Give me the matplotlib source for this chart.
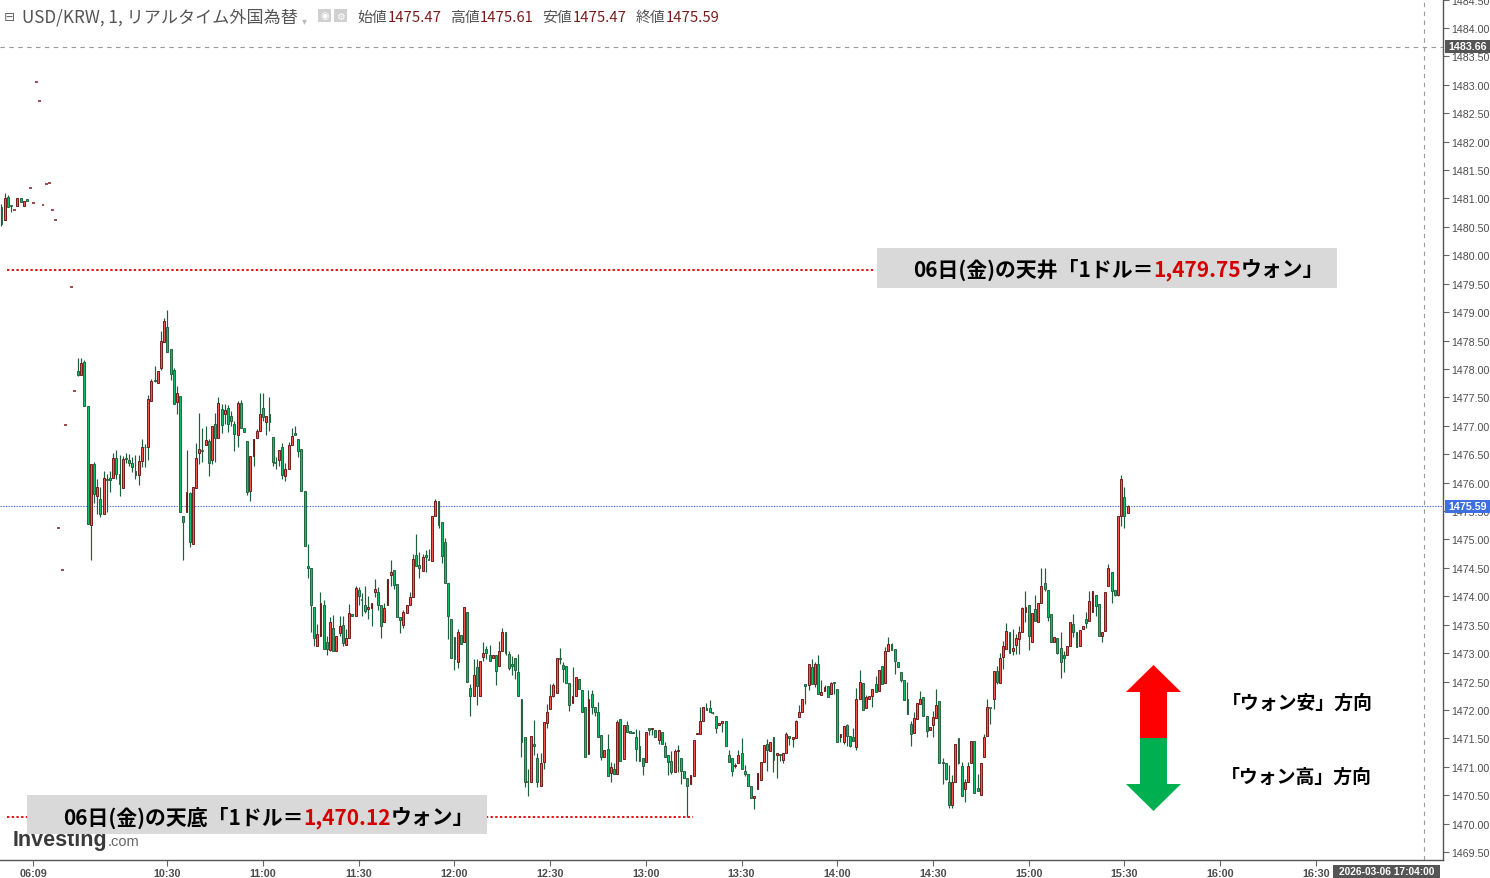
import numpy as np
import matplotlib
matplotlib.use("Agg")
import matplotlib.pyplot as plt
from matplotlib.patches import Rectangle, Polygon

nan = float("nan")

# ---------------- data (USD/KRW 1-minute candles, slot index = chart position) ----------------
candle_open = [
    1480.85, 1480.63, 1481.02, 1480.86, 1480.79, 1480.86, 1481.00, 1480.87, 1480.99, 1481.18,
    1480.92, 1483.05, 1482.72, 1480.88, 1481.25, 1481.28, 1480.79, 1480.63, 1475.21, 1474.46,
    1477.01, nan, 1479.44, 1477.61, 1477.96, 1477.90, 1478.13, 1477.34, 1475.26, 1476.33,
    1475.76, 1475.72, 1475.44, 1476.07, 1476.08, 1476.08, 1476.43, 1476.15, 1475.90, 1476.43,
    1476.40, 1476.35, 1476.20, 1476.13, 1476.38, 1476.63, 1476.62, 1477.43, 1477.81, 1477.75,
    1478.01, 1478.48, 1478.73, 1478.36, 1477.98, 1477.42, 1477.53, 1475.41, 1475.49, 1475.81,
    1474.92, 1475.90, 1476.52, 1476.56, 1476.67, 1476.73, 1476.40, 1477.04, 1476.78, 1477.30,
    1477.20, 1477.31, 1477.17, 1477.04, 1476.84, 1477.41, 1476.97, 1476.73, 1475.85, 1476.46,
    1476.79, 1476.91, 1477.31, 1477.07, 1477.21, 1476.80, 1476.35, 1476.40, 1476.63, 1476.11,
    1476.24, 1476.66, 1476.87, 1476.77, 1476.60, 1475.85, 1474.53, 1474.49, 1473.82, 1473.13,
    1473.31, 1473.85, 1473.19, 1473.06, 1473.45, 1473.03, 1473.35, 1473.49, 1473.15, 1473.26,
    1473.68, 1473.65, 1474.11, 1473.93, 1473.84, 1473.77, 1473.79, 1474.07, 1474.07, 1473.85,
    1473.55, 1473.84, 1474.38, 1474.46, 1474.22, 1473.63, 1473.50, 1473.70, 1473.85, 1473.98,
    1474.73, 1474.55, 1474.45, 1474.73, 1474.63, 1474.62, 1475.41, 1475.67, 1475.30, 1474.95,
    1474.23, 1473.60, 1473.28, 1472.85, 1473.32, 1473.19, 1473.72, 1472.39, 1472.25, 1472.75,
    1472.24, 1472.93, 1473.07, 1472.97, 1472.91, 1472.96, 1472.77, 1473.04, 1473.37, 1472.99,
    1472.81, 1472.91, 1472.66, 1472.19, 1471.52, 1470.74, 1470.73, 1471.40, 1471.15, 1470.67,
    1471.08, 1471.77, 1472.02, 1472.25, 1472.29, 1472.91, 1472.79, 1472.77, 1472.47, 1472.12,
    1472.24, 1472.54, 1472.35, 1472.06, 1471.22, 1472.28, 1472.05, 1471.96, 1471.56, 1471.17,
    1471.31, 1470.89, 1470.97, 1470.88, 1471.84, 1471.14, 1471.74, 1471.63, 1471.62, 1471.52,
    1471.36, 1471.15, 1471.08, 1471.68, 1471.66, 1471.65, 1471.47, 1471.62, 1471.36, 1471.21,
    1471.10, 1470.90, 1471.27, 1471.15, 1470.92, 1470.80, 1470.69, 1470.83, 1471.58, 1471.57,
    1471.81, 1472.03, 1472.03, 1471.95, 1471.89, 1471.74, 1471.77, 1471.80, 1471.21, 1471.15,
    1471.02, 1471.06, 1471.25, 1470.92, 1470.88, 1470.67, 1470.45, 1470.61, 1470.77, 1471.09,
    1471.40, 1471.27, 1471.53, 1471.21, 1471.22, 1471.12, 1471.25, 1471.54, 1471.49, 1471.50,
    1471.87, 1471.96, 1472.46, 1472.44, 1472.75, 1472.46, 1472.80, 1472.27, 1472.33, 1472.42,
    1472.28, 1472.49, 1472.37, 1471.52, 1471.43, 1471.74, 1471.54, 1471.52, 1471.34, 1472.19,
    1472.47, 1472.03, 1472.19, 1472.24, 1472.46, 1472.34, 1472.78, 1472.47, 1473.04, 1473.16,
    1473.08, 1472.84, 1472.67, 1472.52, 1472.19, 1471.75, 1471.59, 1471.84, 1472.10, 1472.22,
    1471.89, 1471.65, 1471.73, 1471.85, 1472.16, 1471.09, 1471.06, 1470.74, 1470.32, 1470.74,
    1471.50, 1471.02, 1470.61, 1470.73, 1471.07, 1471.45, 1470.62, 1470.50, 1471.17, 1471.54,
    1472.03, 1472.20, 1472.68, 1472.47, 1472.93, 1473.07, 1473.37, 1473.03, 1473.15, 1473.24,
    1473.37, 1473.72, 1473.84, 1473.19, 1473.78, 1473.54, 1473.88, 1474.23, 1474.11, 1473.68,
    1473.19, 1473.26, 1473.09, 1472.97, 1472.97, 1473.13, 1473.51, 1473.37, 1473.12, 1473.43,
    1473.60, 1473.56, 1473.72, 1474.02, 1473.86, 1473.31, 1473.39, 1474.18, 1474.42, 1474.11,
    1474.03, 1475.41, 1475.74, 1475.47,
]
candle_high = [
    1480.90, 1481.10, 1481.06, 1480.88, 1480.79, 1481.00, 1481.00, 1480.96, 1480.99, 1481.18,
    1480.92, 1483.05, 1482.72, 1480.88, 1481.25, 1481.28, 1480.79, 1480.63, 1475.21, 1474.46,
    1477.01, nan, 1479.44, 1477.61, 1478.19, 1478.20, 1478.15, 1477.34, 1476.32, 1476.36,
    1476.06, 1475.92, 1476.21, 1476.15, 1476.21, 1476.52, 1476.57, 1476.49, 1476.46, 1476.53,
    1476.51, 1476.45, 1476.49, 1476.49, 1476.76, 1476.68, 1477.54, 1477.82, 1478.06, 1477.96,
    1478.67, 1478.90, 1479.03, 1478.36, 1478.01, 1477.70, 1477.53, 1475.41, 1476.57, 1475.83,
    1475.92, 1476.70, 1477.23, 1476.97, 1477.00, 1476.76, 1477.00, 1477.23, 1477.50, 1477.38,
    1477.38, 1477.36, 1477.26, 1477.08, 1477.44, 1477.45, 1476.97, 1476.73, 1476.46, 1476.77,
    1476.95, 1477.58, 1477.58, 1477.18, 1477.50, 1476.80, 1476.45, 1476.58, 1476.69, 1476.34,
    1476.71, 1476.96, 1476.99, 1476.77, 1476.60, 1475.86, 1474.92, 1474.49, 1473.82, 1473.51,
    1474.07, 1473.93, 1473.30, 1473.63, 1473.67, 1473.31, 1473.66, 1473.66, 1473.42, 1473.86,
    1473.68, 1474.19, 1474.17, 1474.06, 1474.19, 1474.00, 1473.89, 1474.30, 1474.16, 1473.85,
    1473.89, 1474.30, 1474.64, 1474.46, 1474.22, 1473.63, 1473.76, 1473.85, 1474.07, 1474.74,
    1475.10, 1474.78, 1474.74, 1474.82, 1474.84, 1475.41, 1475.71, 1475.67, 1475.30, 1475.03,
    1474.23, 1473.60, 1473.28, 1473.42, 1473.32, 1473.81, 1473.72, 1472.45, 1472.90, 1472.90,
    1472.86, 1473.19, 1473.13, 1473.14, 1472.97, 1472.96, 1473.21, 1473.44, 1473.37, 1473.04,
    1472.95, 1472.91, 1472.98, 1472.19, 1471.52, 1470.96, 1471.54, 1471.82, 1471.24, 1471.24,
    1471.79, 1472.10, 1472.46, 1472.48, 1472.92, 1473.09, 1472.84, 1472.77, 1472.47, 1472.75,
    1472.58, 1472.54, 1472.35, 1472.06, 1472.35, 1472.35, 1472.05, 1472.14, 1471.56, 1471.30,
    1471.58, 1471.08, 1471.06, 1471.83, 1471.84, 1471.74, 1471.81, 1471.63, 1471.62, 1471.66,
    1471.65, 1471.15, 1471.62, 1471.68, 1471.68, 1471.65, 1471.64, 1471.62, 1471.43, 1471.21,
    1471.28, 1471.31, 1471.38, 1471.15, 1470.92, 1470.80, 1470.86, 1471.47, 1471.60, 1472.06,
    1472.05, 1472.12, 1472.18, 1471.97, 1471.89, 1471.77, 1471.80, 1471.80, 1471.30, 1471.15,
    1471.06, 1471.30, 1471.50, 1471.03, 1470.88, 1470.67, 1470.49, 1470.89, 1471.09, 1471.38,
    1471.49, 1471.43, 1471.53, 1471.24, 1471.22, 1471.24, 1471.61, 1471.54, 1471.53, 1471.82,
    1472.08, 1472.20, 1472.46, 1472.81, 1472.89, 1472.85, 1472.96, 1472.53, 1472.44, 1472.42,
    1472.50, 1472.49, 1472.37, 1471.58, 1471.71, 1471.76, 1471.54, 1471.68, 1472.38, 1472.70,
    1472.47, 1472.26, 1472.24, 1472.37, 1472.60, 1472.70, 1472.78, 1473.10, 1473.28, 1473.18,
    1473.08, 1472.84, 1472.67, 1472.53, 1472.49, 1471.81, 1471.97, 1472.12, 1472.34, 1472.22,
    1471.89, 1471.70, 1471.99, 1472.37, 1472.16, 1471.15, 1471.06, 1471.03, 1470.86, 1471.40,
    1471.50, 1471.09, 1470.79, 1471.08, 1471.46, 1471.45, 1470.87, 1471.06, 1471.58, 1472.19,
    1472.03, 1472.69, 1472.78, 1473.01, 1473.21, 1473.53, 1473.37, 1473.42, 1473.34, 1473.48,
    1473.82, 1474.10, 1473.84, 1473.71, 1474.02, 1473.88, 1474.49, 1474.49, 1474.11, 1473.68,
    1473.29, 1473.26, 1473.37, 1473.04, 1473.12, 1473.54, 1473.68, 1473.37, 1473.41, 1473.47,
    1473.72, 1474.10, 1474.10, 1474.02, 1473.86, 1473.38, 1474.07, 1474.57, 1474.42, 1474.11,
    1475.41, 1476.13, 1475.92, 1475.61,
]
candle_low = [
    1480.52, 1480.63, 1480.85, 1480.77, 1480.79, 1480.86, 1480.93, 1480.87, 1480.95, 1481.18,
    1480.92, 1483.05, 1482.72, 1480.88, 1481.25, 1481.28, 1480.79, 1480.63, 1475.21, 1474.46,
    1477.01, nan, 1479.44, 1477.61, 1477.87, 1477.90, 1477.35, 1475.28, 1474.64, 1475.65,
    1475.44, 1475.40, 1475.44, 1475.48, 1475.83, 1476.08, 1476.07, 1475.77, 1475.90, 1476.34,
    1476.29, 1476.18, 1476.07, 1475.96, 1476.28, 1476.27, 1476.40, 1477.43, 1477.77, 1477.75,
    1477.98, 1478.48, 1478.29, 1477.81, 1477.38, 1477.21, 1475.48, 1474.63, 1475.49, 1474.87,
    1474.92, 1475.90, 1476.33, 1476.36, 1476.66, 1476.11, 1476.33, 1476.36, 1476.78, 1476.87,
    1477.04, 1476.89, 1476.99, 1476.56, 1476.62, 1476.97, 1476.89, 1475.79, 1475.68, 1476.30,
    1476.79, 1476.91, 1477.09, 1476.84, 1476.91, 1476.29, 1476.24, 1476.29, 1476.06, 1476.03,
    1476.24, 1476.66, 1476.83, 1476.45, 1475.86, 1474.88, 1474.32, 1473.38, 1473.13, 1473.13,
    1473.31, 1473.08, 1472.97, 1473.03, 1473.04, 1473.03, 1473.31, 1473.13, 1473.15, 1473.26,
    1473.65, 1473.65, 1473.85, 1473.66, 1473.70, 1473.60, 1473.48, 1473.98, 1473.76, 1473.27,
    1473.55, 1473.84, 1474.19, 1474.12, 1473.63, 1473.35, 1473.44, 1473.70, 1473.85, 1473.98,
    1474.54, 1474.33, 1474.45, 1474.42, 1474.63, 1474.62, 1475.41, 1475.21, 1474.59, 1474.23,
    1473.24, 1472.91, 1472.71, 1472.74, 1473.16, 1473.19, 1472.49, 1471.90, 1472.25, 1472.09,
    1472.24, 1472.87, 1472.90, 1472.86, 1472.91, 1472.44, 1472.77, 1473.04, 1472.96, 1472.70,
    1472.62, 1472.54, 1472.25, 1471.17, 1470.64, 1470.49, 1470.73, 1471.21, 1470.64, 1470.67,
    1470.96, 1471.69, 1472.02, 1472.23, 1472.29, 1472.81, 1472.49, 1472.47, 1471.98, 1472.12,
    1472.24, 1472.37, 1471.96, 1471.18, 1471.22, 1471.93, 1471.90, 1471.52, 1471.12, 1471.17,
    1470.83, 1470.74, 1470.87, 1470.88, 1471.10, 1471.14, 1471.61, 1471.60, 1471.59, 1471.11,
    1471.10, 1470.86, 1471.08, 1471.56, 1471.56, 1471.52, 1471.40, 1471.40, 1471.18, 1470.85,
    1470.88, 1470.90, 1470.90, 1470.70, 1470.80, 1470.12, 1470.69, 1470.83, 1471.58, 1471.57,
    1471.81, 1472.00, 1471.97, 1471.93, 1471.59, 1471.74, 1471.62, 1471.36, 1471.09, 1470.83,
    1470.98, 1471.06, 1470.97, 1470.83, 1470.67, 1470.45, 1470.25, 1470.61, 1470.77, 1471.09,
    1470.93, 1471.27, 1470.91, 1470.80, 1471.11, 1471.06, 1471.25, 1471.38, 1471.34, 1471.50,
    1471.87, 1471.96, 1472.10, 1472.36, 1472.46, 1472.40, 1472.28, 1472.27, 1472.33, 1472.22,
    1472.28, 1472.28, 1471.43, 1471.43, 1471.40, 1471.37, 1471.34, 1471.46, 1471.30, 1472.19,
    1472.00, 1472.03, 1472.19, 1472.06, 1472.32, 1472.34, 1472.46, 1472.47, 1473.04, 1473.06,
    1472.63, 1472.75, 1472.50, 1472.17, 1471.93, 1471.37, 1471.59, 1471.84, 1472.10, 1471.89,
    1471.52, 1471.65, 1471.52, 1471.85, 1471.06, 1470.70, 1470.76, 1470.27, 1470.27, 1470.74,
    1471.05, 1470.48, 1470.38, 1470.73, 1471.07, 1470.54, 1470.58, 1470.50, 1471.17, 1471.54,
    1471.75, 1472.02, 1472.46, 1472.47, 1472.72, 1473.07, 1473.01, 1472.96, 1472.98, 1472.98,
    1473.37, 1473.54, 1473.06, 1473.19, 1473.56, 1473.54, 1473.88, 1474.10, 1473.57, 1473.19,
    1473.19, 1472.98, 1472.57, 1472.66, 1472.97, 1473.13, 1473.28, 1473.10, 1473.12, 1473.43,
    1473.45, 1473.56, 1473.72, 1473.66, 1473.30, 1473.20, 1473.39, 1474.18, 1473.89, 1474.00,
    1474.01, 1475.24, 1475.21, 1475.47,
]
candle_close = [
    1480.55, 1481.00, 1480.85, 1480.86, 1480.79, 1481.00, 1480.93, 1480.96, 1480.95, 1481.18,
    1480.92, 1483.05, 1482.72, 1480.88, 1481.25, 1481.28, 1480.79, 1480.63, 1475.21, 1474.46,
    1477.01, nan, 1479.44, 1477.61, 1477.90, 1478.11, 1477.35, 1475.28, 1476.32, 1475.80,
    1475.92, 1475.44, 1476.08, 1476.04, 1476.04, 1476.43, 1476.15, 1475.97, 1476.42, 1476.41,
    1476.34, 1476.27, 1476.13, 1476.38, 1476.62, 1476.62, 1477.48, 1477.79, 1477.79, 1477.96,
    1478.49, 1478.84, 1478.29, 1477.92, 1477.38, 1477.58, 1475.48, 1475.31, 1475.83, 1474.95,
    1475.92, 1476.43, 1476.59, 1476.56, 1476.75, 1476.34, 1477.00, 1476.78, 1477.40, 1477.02,
    1477.27, 1477.04, 1477.08, 1476.86, 1477.40, 1476.97, 1476.89, 1475.84, 1476.46, 1476.77,
    1476.90, 1477.21, 1477.15, 1477.18, 1477.06, 1476.36, 1476.35, 1476.58, 1476.13, 1476.24,
    1476.66, 1476.82, 1476.83, 1476.56, 1475.86, 1474.88, 1474.49, 1473.85, 1473.26, 1473.34,
    1473.88, 1473.08, 1473.08, 1473.54, 1473.04, 1473.31, 1473.47, 1473.18, 1473.26, 1473.70,
    1473.65, 1474.14, 1474.01, 1473.93, 1473.74, 1473.81, 1473.89, 1474.13, 1473.84, 1473.47,
    1473.79, 1474.30, 1474.42, 1474.20, 1473.63, 1473.58, 1473.72, 1473.85, 1473.98, 1474.66,
    1474.54, 1474.50, 1474.70, 1474.69, 1474.63, 1475.41, 1475.67, 1475.26, 1474.71, 1474.23,
    1473.66, 1472.91, 1472.90, 1473.37, 1473.16, 1473.81, 1472.49, 1472.24, 1472.62, 1472.43,
    1472.86, 1473.00, 1473.01, 1472.86, 1472.97, 1472.69, 1473.03, 1473.38, 1473.01, 1472.73,
    1472.78, 1472.71, 1472.25, 1471.43, 1470.74, 1470.74, 1471.54, 1471.37, 1470.74, 1471.07,
    1471.79, 1471.96, 1472.25, 1472.44, 1472.92, 1472.89, 1472.72, 1472.47, 1472.08, 1472.24,
    1472.58, 1472.37, 1471.96, 1471.18, 1472.20, 1472.05, 1471.96, 1471.52, 1471.17, 1471.30,
    1470.83, 1471.00, 1470.87, 1471.79, 1471.10, 1471.74, 1471.61, 1471.60, 1471.59, 1471.31,
    1471.10, 1471.02, 1471.62, 1471.64, 1471.68, 1471.52, 1471.64, 1471.40, 1471.18, 1471.08,
    1470.90, 1471.27, 1471.30, 1470.92, 1470.80, 1470.67, 1470.86, 1471.47, 1471.60, 1471.80,
    1472.05, 1472.00, 1471.97, 1471.95, 1471.68, 1471.77, 1471.80, 1471.36, 1471.09, 1470.92,
    1471.04, 1471.21, 1470.97, 1470.88, 1470.67, 1470.45, 1470.49, 1470.89, 1471.09, 1471.38,
    1471.30, 1471.43, 1471.12, 1471.24, 1471.21, 1471.24, 1471.58, 1471.50, 1471.53, 1471.80,
    1471.96, 1472.20, 1472.42, 1472.81, 1472.46, 1472.80, 1472.28, 1472.31, 1472.40, 1472.22,
    1472.47, 1472.47, 1471.43, 1471.58, 1471.71, 1471.54, 1471.36, 1471.46, 1472.19, 1472.50,
    1472.00, 1472.22, 1472.24, 1472.37, 1472.32, 1472.70, 1472.46, 1473.04, 1473.16, 1473.06,
    1472.86, 1472.75, 1472.52, 1472.18, 1471.93, 1471.58, 1471.85, 1472.12, 1472.20, 1471.89,
    1471.63, 1471.70, 1471.87, 1472.08, 1471.06, 1471.06, 1470.79, 1470.33, 1470.74, 1471.40,
    1471.07, 1470.48, 1470.73, 1471.02, 1471.46, 1470.54, 1470.58, 1471.06, 1471.52, 1472.05,
    1472.03, 1472.69, 1472.49, 1472.91, 1473.13, 1473.39, 1473.01, 1473.09, 1473.26, 1473.37,
    1473.79, 1473.82, 1473.31, 1473.71, 1473.56, 1473.88, 1474.18, 1474.13, 1473.63, 1473.19,
    1473.29, 1473.01, 1472.84, 1472.91, 1473.12, 1473.54, 1473.37, 1473.10, 1473.41, 1473.47,
    1473.53, 1473.91, 1474.09, 1473.83, 1473.30, 1473.38, 1474.07, 1474.49, 1474.10, 1474.03,
    1475.41, 1476.06, 1475.41, 1475.59,
]

time_tick_slots = [10, 52, 82, 112, 142, 172, 202, 232, 262, 292, 322, 352, 382, 412]
time_tick_labels = ["06:09", "10:30", "11:00", "11:30", "12:00", "12:30", "13:00",
                    "13:30", "14:00", "14:30", "15:00", "15:30", "16:00", "16:30"]

ceiling_price = 1479.75
floor_price = 1470.12
last_price = 1475.59
cursor_price = 1483.66
cursor_slot = 446
cursor_label = "2026-03-06 17:04:00"

title_main = "USD/KRW, 1, リアルタイム外国為替"
ohlc_names = ["始値", "高値", "安値", "終値"]
ohlc_values = ["1475.47", "1475.61", "1475.47", "1475.59"]

ceiling_text = ["06日(金)の天井「1ドル＝", "1,479.75", "ウォン」"]
floor_text = ["06日(金)の天底「1ドル＝", "1,470.12", "ウォン」"]
up_label = "「ウォン安」方向"
down_label = "「ウォン高」方向"

# ---------------- figure setup ----------------
W, H, DPI = 1490, 879, 100
JP = ["Noto Sans CJK JP", "DejaVu Sans"]
plt.rcParams["font.family"] = JP

fig = plt.figure(figsize=(W / DPI, H / DPI), dpi=DPI, facecolor="white")
ax = fig.add_axes([0, 18 / H, 1443 / W, 861 / H])
ax.set_facecolor("white")


def fx(x):
    return x / W


def fy(y):
    return 1 - y / H


ax.set_ylim(1469.36, 1484.51)
x0px, slot_px = 1.5, 3.19
ax.set_xlim(-x0px / slot_px, (1443 - x0px) / slot_px)

o = np.array(candle_open, dtype=float)
h = np.array(candle_high, dtype=float)
l = np.array(candle_low, dtype=float)
c = np.array(candle_close, dtype=float)
idx = np.arange(len(o))
valid = ~np.isnan(o)

WICK = "#1f5e3b"
RED_FILL, RED_EDGE = "#f2574f", "#6a1414"
GRN_FILL, GRN_EDGE = "#10bd68", "#1f5e3b"
DASH_RED = "#7a1c1c"

up = valid & (c > o)
down = valid & (c < o)
flat = valid & (c == o)
dash = flat & (h == l)
cross = flat & (h > l)

wk = valid & (h > l)
ax.vlines(idx[wk], l[wk], h[wk], color=WICK, lw=0.85, zorder=2)
ax.bar(idx[up], (c - o)[up], bottom=o[up], width=0.6, color=RED_FILL,
       edgecolor=RED_EDGE, linewidth=0.65, zorder=3)
ax.bar(idx[down], (o - c)[down], bottom=c[down], width=0.6, color=GRN_FILL,
       edgecolor=GRN_EDGE, linewidth=0.65, zorder=3)
ax.hlines(o[dash], idx[dash] - 0.45, idx[dash] + 0.45, color=DASH_RED, lw=1.1, zorder=3)
ax.hlines(o[cross], idx[cross] - 0.45, idx[cross] + 0.45, color=WICK, lw=1.1, zorder=3)

# reference lines
ax.axhline(last_price, color="#3b6fe6", lw=0.8, ls=(0, (1.2, 1.2)), zorder=1)
ax.axhline(cursor_price, color="#9a9a9a", lw=0.8, ls=(0, (4, 4)), zorder=1)
ax.axvline(cursor_slot, color="#9a9a9a", lw=0.8, ls=(0, (4, 4)), zorder=1)
ax.hlines(ceiling_price, 1.7, 273.8, color="#e30000", lw=1.3, ls=(0, (1.3, 1.3)), zorder=4)
ax.hlines(floor_price, 1.7, 216.8, color="#e30000", lw=1.3, ls=(0, (1.3, 1.3)), zorder=4)

# axes styling
for s in ["top", "left"]:
    ax.spines[s].set_visible(False)
for s in ["right", "bottom"]:
    ax.spines[s].set_color("#555555")
    ax.spines[s].set_linewidth(1.0)
ax.yaxis.tick_right()
yt = np.arange(1469.5, 1484.51, 0.5)
ax.set_yticks(yt)
ax.set_yticklabels([f"{v:.2f}" for v in yt])
ax.tick_params(axis="y", length=4, width=0.8, color="#666666", pad=2.2,
               labelsize=7.7, labelcolor="#4d4d4d", labelfontfamily="Liberation Sans")
ax.set_xticks(time_tick_slots)
ax.set_xticklabels(time_tick_labels, fontweight="bold")
ax.tick_params(axis="x", length=4, width=0.8, color="#666666", pad=1.5,
               labelsize=7.8, labelcolor="#4d4d4d", labelfontfamily="Liberation Sans")


def price_box(y_center, text, face):
    ax.add_patch(Rectangle((fx(1445), fy(y_center + 6.5)), fx(45), 13 / H,
                           transform=fig.transFigure, facecolor=face, edgecolor="none",
                           zorder=8, clip_on=False))
    ax.text(fx(1467.5), fy(y_center), text, transform=fig.transFigure, color="white",
            fontsize=7.7, fontweight="bold", family="Liberation Sans",
            ha="center", va="center", zorder=9, clip_on=False)


price_box(47, f"{cursor_price:.2f}", "#555555")
price_box(507, f"{last_price:.2f}", "#3d6fe3")

ax.add_patch(Rectangle((fx(1333), fy(879)), fx(107), 13 / H, transform=fig.transFigure,
                       facecolor="#555555", edgecolor="none", zorder=8, clip_on=False))
ax.text(fx(1386.5), fy(872.5), cursor_label, transform=fig.transFigure, color="white",
        fontsize=7.3, fontweight="bold", family="Liberation Sans", ha="center",
        va="center", zorder=9, clip_on=False)


def chain(x_px, y_px, pieces, z=10):
    first = pieces[0]
    t = ax.text(fx(x_px), fy(y_px), first["s"], transform=fig.transFigure,
                color=first.get("color", "black"), fontsize=first["size"],
                family=first.get("family", JP), fontweight=first.get("weight", "normal"),
                ha="left", va="baseline", zorder=z, clip_on=False)
    prev = t
    for p in pieces[1:]:
        prev = ax.annotate(p["s"], xy=(1, 0), xycoords=prev,
                           xytext=(p.get("gap", 0), p.get("dy", 0)),
                           textcoords="offset points", color=p.get("color", "black"),
                           fontsize=p["size"], family=p.get("family", JP),
                           fontweight=p.get("weight", "normal"), ha="left", va="bottom",
                           zorder=z, annotation_clip=False)
    return t


# header
chain(4, 21, [dict(s="⊟", size=9.5, color="#666666", family=["DejaVu Sans"])])
chain(22, 22, [dict(s=title_main, size=12.3, color="#555555"),
               dict(s="▾", size=7, color="#bbbbbb", gap=3, family=["DejaVu Sans"])])
for k, xx in enumerate([318, 334]):
    ax.add_patch(Rectangle((fx(xx), fy(23)), fx(13), 13 / H, transform=fig.transFigure,
                           facecolor="#d0d0d0", edgecolor="none", zorder=8, clip_on=False))
    ax.text(fx(xx + 6.5), fy(16.5), "⚙" if k else "◉", transform=fig.transFigure,
            color="white", fontsize=7, family=["DejaVu Sans"], ha="center", va="center",
            zorder=9, clip_on=False)
hdr = []
for k, (nm, vv) in enumerate(zip(ohlc_names, ohlc_values)):
    hdr.append(dict(s=nm, size=10.7, color="#555555", gap=0 if k == 0 else 6))
    hdr.append(dict(s=vv, size=10.7, color="#7a1a1a", gap=0.5))
chain(357, 22, hdr)

# Investing.com logo (behind the floor box)
chain(13, 846, [dict(s="Investing", size=15.5, weight="bold", color="#3a3a3a",
                     family=["Liberation Sans"]),
                dict(s=".com", size=10.5, color="#666666", family=["Liberation Sans"],
                     dy=1.1)], z=3.5)

# annotation boxes
ax.add_patch(Rectangle((fx(877), fy(289)), fx(460), 40 / H, transform=fig.transFigure,
                       facecolor="#d9d9d9", edgecolor="none", zorder=6, clip_on=False))
ax.add_patch(Rectangle((fx(27), fy(835)), fx(460), 39 / H, transform=fig.transFigure,
                       facecolor="#d9d9d9", edgecolor="none", zorder=6, clip_on=False))


def box_text(x, y, parts):
    cols = ["black", "#d40000", "black"]
    chain(x, y, [dict(s=s, size=15, weight="bold", color=col) for s, col in zip(parts, cols)])


box_text(913, 277, ceiling_text)
box_text(63, 825, floor_text)

# direction arrows
up_poly = [(1153.5, 666), (1181, 693), (1167, 693), (1167, 739), (1140, 739), (1140, 693), (1126, 693)]
dn_poly = [(1140, 739), (1167, 739), (1167, 785), (1181, 785), (1153.5, 812), (1126, 785), (1140, 785)]
ax.add_patch(Polygon([(fx(a), fy(b)) for a, b in up_poly], closed=True, transform=fig.transFigure,
                     facecolor="#ff0000", edgecolor="none", zorder=6, clip_on=False))
ax.add_patch(Polygon([(fx(a), fy(b)) for a, b in dn_poly], closed=True, transform=fig.transFigure,
                     facecolor="#00b050", edgecolor="none", zorder=6, clip_on=False))
ax.text(fx(1222), fy(703), up_label, transform=fig.transFigure, fontsize=13.6, fontweight="bold",
        color="black", ha="left", va="center", zorder=10, clip_on=False)
ax.text(fx(1221), fy(777), down_label, transform=fig.transFigure, fontsize=13.6, fontweight="bold",
        color="black", ha="left", va="center", zorder=10, clip_on=False)

fig.savefig("out.png", dpi=DPI, facecolor="white")
